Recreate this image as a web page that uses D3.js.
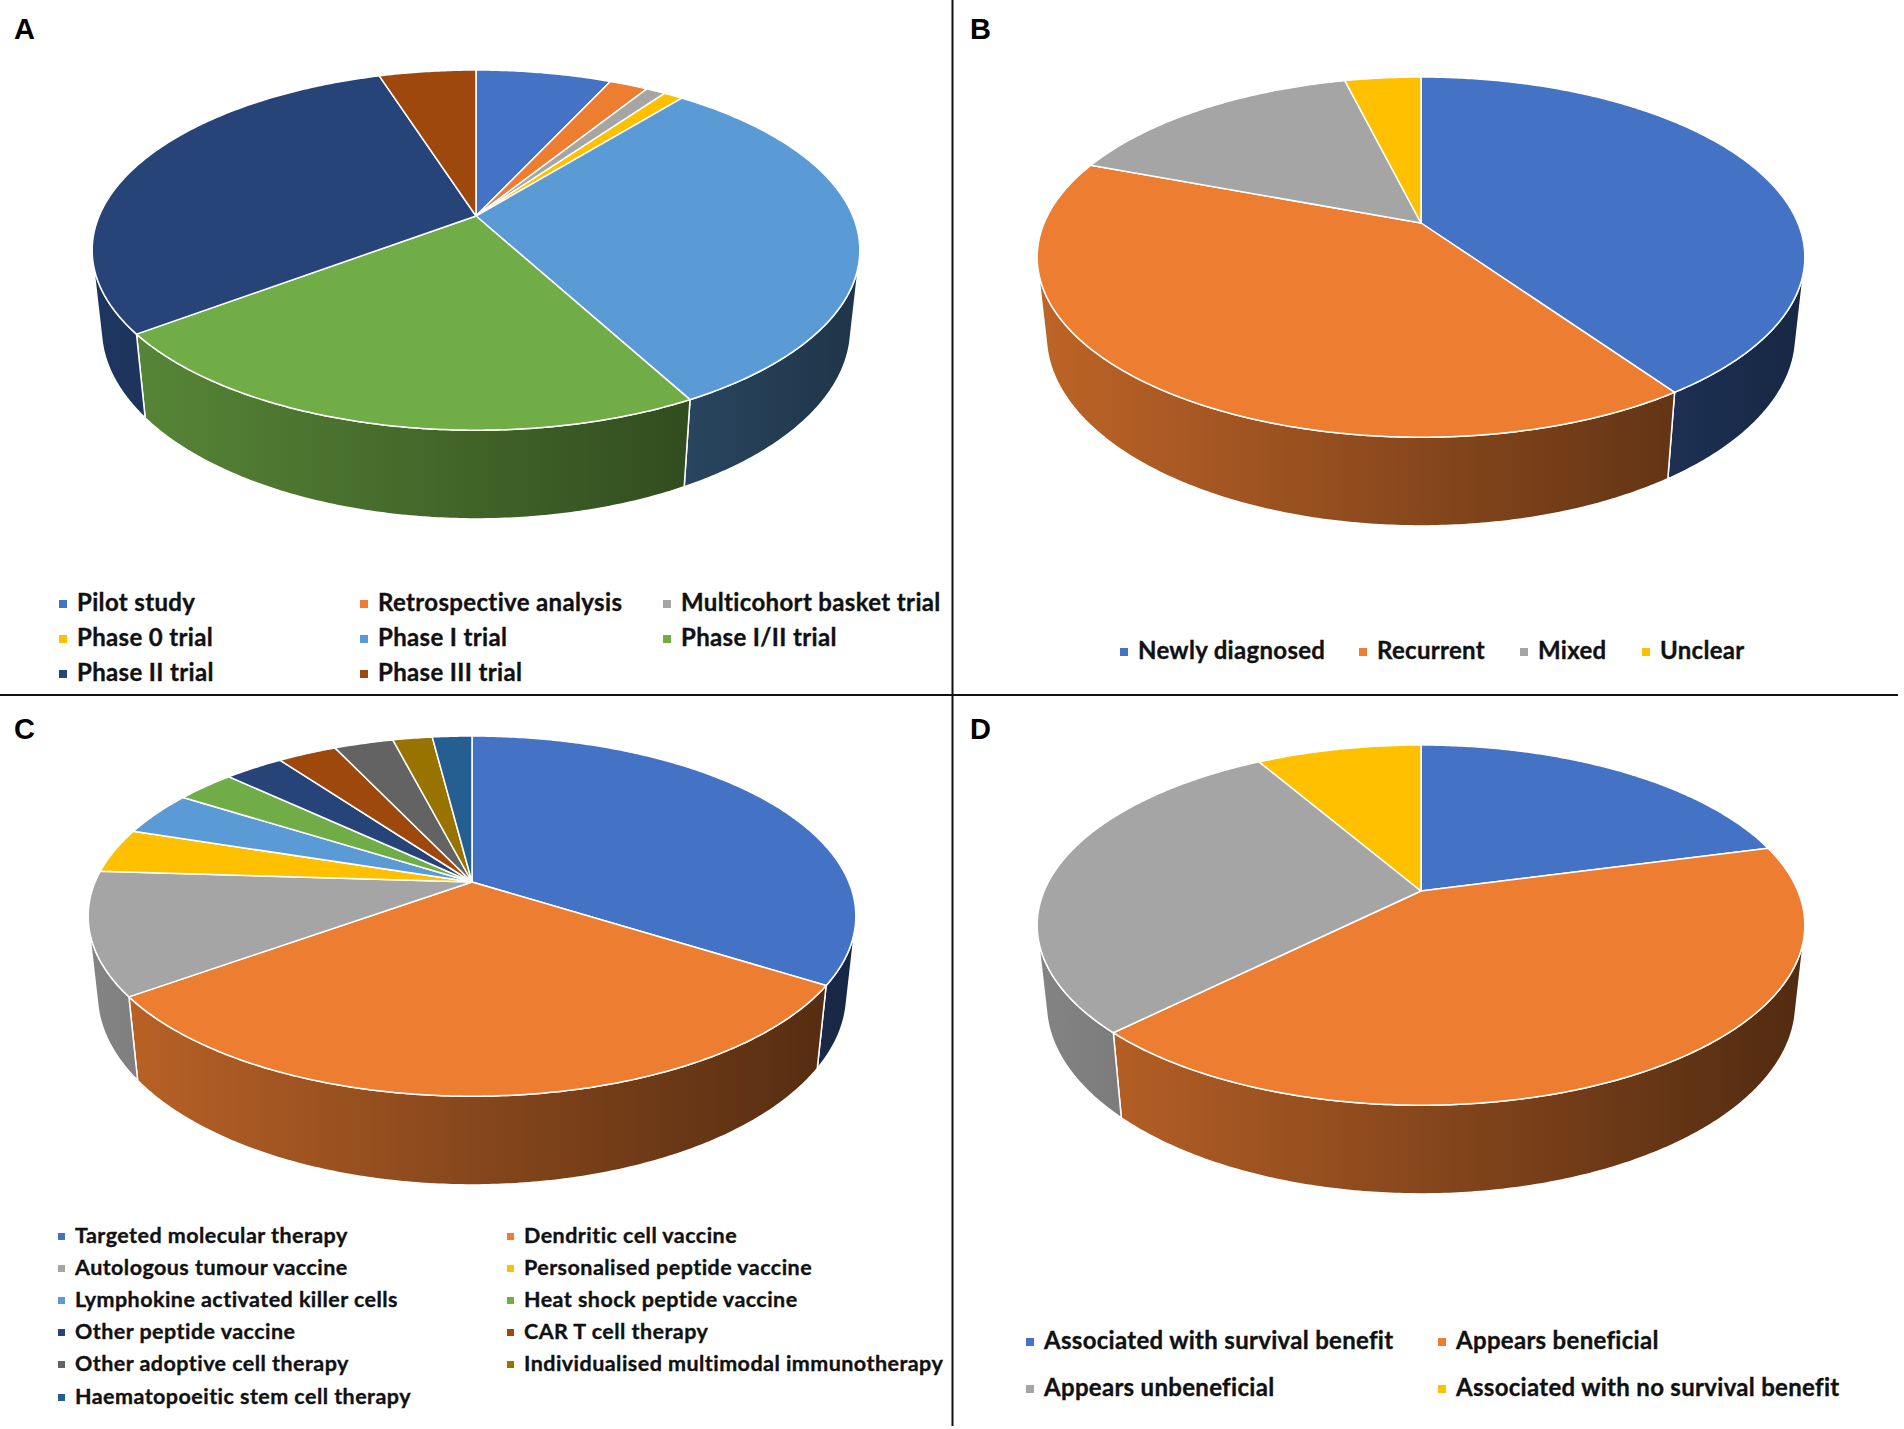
<!DOCTYPE html>
<html>
<head>
<meta charset="utf-8">
<script src="https://cdn.jsdelivr.net/npm/d3@7"></script>
<style>
  html, body { margin: 0; padding: 0; background: #fff; }
  svg { display: block; }
  .panel-letter { font-family: "Liberation Sans", Arial, sans-serif; font-weight: 700; font-size: 29px; fill: #000; }
  .leg text { font-family: Lato, "Open Sans", sans-serif; font-weight: 700; fill: #111; stroke: #111; stroke-width: 0.35px; }
</style>
</head>
<body>
<svg id="chart" width="1904" height="1429"></svg>
<script>
/* ── Data ─────────────────────────────────────────────────────── */
const studyTypes  = ["Pilot study", "Retrospective analysis", "Multicohort basket trial", "Phase 0 trial",
                     "Phase I trial", "Phase I/II trial", "Phase II trial", "Phase III trial"];
const studyCounts = [7, 2, 1, 1, 32, 23, 31, 5];
const studyColors = ["#4472C4", "#ED7D31", "#A5A5A5", "#FFC000", "#5B9BD5", "#70AD47", "#264478", "#9E480E"];

const diseaseStages = ["Newly diagnosed", "Recurrent", "Mixed", "Unclear"];
const diseaseCounts = [21, 21, 8, 2];

const therapyTypes  = ["Targeted molecular therapy", "Dendritic cell vaccine", "Autologous tumour vaccine",
                       "Personalised peptide vaccine", "Lymphokine activated killer cells", "Heat shock peptide vaccine",
                       "Other peptide vaccine", "CAR T cell therapy", "Other adoptive cell therapy",
                       "Individualised multimodal immunotherapy", "Haematopoeitic stem cell therapy"];
const therapyCounts = [34, 31, 11, 4, 4, 3, 3, 3, 3, 2, 2];
const therapyColors = ["#4472C4", "#ED7D31", "#A5A5A5", "#FFC000", "#5B9BD5", "#70AD47",
                       "#264478", "#9E480E", "#636363", "#997300", "#255E91"];

const outcomeLabels = ["Associated with survival benefit", "Appears beneficial",
                       "Appears unbeneficial", "Associated with no survival benefit"];
const outcomeCounts = [5, 10, 7, 2];

const fourColors = ["#4472C4", "#ED7D31", "#A5A5A5", "#FFC000"];

/* ── Layout ───────────────────────────────────────────────────── */
const panels = [
  { letter: "A", lx: 14, ly: 39, cx: 476, cy: 216, labels: studyTypes, values: studyCounts, colors: studyColors,
    legend: { cols: [77, 378, 681], rows: [611, 646, 681], size: 24, ls: 0.35, box: 8 } },
  { letter: "B", lx: 970, ly: 39, cx: 1421, cy: 223, labels: diseaseStages, values: diseaseCounts, colors: fourColors,
    legend: { cols: [1138, 1377, 1538, 1660], rows: [659], size: 24, ls: 0.3, box: 8 } },
  { letter: "C", lx: 14, ly: 739, cx: 472, cy: 882, labels: therapyTypes, values: therapyCounts, colors: therapyColors,
    legend: { cols: [75, 524], rows: [1243, 1275, 1307, 1339, 1371, 1404], size: 21.5, ls: 0.45, box: 7 } },
  { letter: "D", lx: 970, ly: 739, cx: 1421, cy: 891, labels: outcomeLabels, values: outcomeCounts, colors: fourColors,
    legend: { cols: [1044, 1456], rows: [1349, 1396], size: 24, ls: 0.3, box: 8 } }
];

// perspective camera for the tilted pie (unit-radius disc)
const K = 1766, SIN = 0.4607, COS = 0.8876, DIST = 4.686, THICK = 0.236;
const visLo = Math.acos(-1 / (DIST * COS));        // silhouette of the side wall
const visHi = 2 * Math.PI - visLo;
const shade = d3.scaleLinear().domain([0, 1]).range([0.8, 0.34]);

const svg = d3.select("#chart");
const defs = svg.append("defs");
const line = d3.line();

function drawPie(p, pi) {
  const g = svg.append("g");
  const arcs = d3.pie().sort(null).value(d => d)(p.values);

  const proj = (phi, y) => {
    const x = Math.sin(phi), z = -Math.cos(phi);
    const d = DIST - y * SIN - z * COS;
    return [p.cx + K * x / d, p.cy + K * (z * SIN - y * COS) / d];
  };
  const sample = (a0, a1, y) => {
    const n = Math.max(2, Math.ceil((a1 - a0) / 0.01));
    return d3.range(n + 1).map(k => proj(a0 + (a1 - a0) * k / n, y));
  };

  // side gradients (lighter left, darker right)
  p.colors.forEach((c, i) => {
    const grad = defs.append("linearGradient")
      .attr("id", `side-${pi}-${i}`)
      .attr("gradientUnits", "userSpaceOnUse")
      .attr("x1", p.cx - 385).attr("x2", p.cx + 385).attr("y1", 0).attr("y2", 0);
    [0, 0.5, 1].forEach(t => {
      const rgb = d3.rgb(c), f = shade(t);
      grad.append("stop").attr("offset", t)
        .attr("stop-color", d3.rgb(rgb.r * f, rgb.g * f, rgb.b * f).formatHex());
    });
  });

  // side walls
  g.append("g").selectAll("path")
    .data(arcs.filter(a => a.endAngle > visLo && a.startAngle < visHi))
    .join("path")
    .attr("d", a => {
      const lo = Math.max(a.startAngle, visLo), hi = Math.min(a.endAngle, visHi);
      return line(sample(lo, hi, 0).concat(sample(lo, hi, -THICK).reverse())) + "Z";
    })
    .attr("fill", a => `url(#side-${pi}-${a.index})`)
    .attr("stroke", "#fff").attr("stroke-width", 1.5).attr("stroke-linejoin", "round");

  // top faces
  g.append("g").selectAll("path")
    .data(arcs)
    .join("path")
    .attr("d", a => line([[p.cx, p.cy]].concat(sample(a.startAngle, a.endAngle, 0))) + "Z")
    .attr("fill", a => p.colors[a.index])
    .attr("stroke", "#fff").attr("stroke-width", 1.5).attr("stroke-linejoin", "round");

  // panel letter
  svg.append("text").attr("class", "panel-letter").attr("x", p.lx).attr("y", p.ly).text(p.letter);

  // legend
  const L = p.legend, nc = L.cols.length;
  const items = svg.append("g").attr("class", "leg").selectAll("g")
    .data(p.labels.map((t, i) => ({ t, i })))
    .join("g")
    .attr("transform", d => `translate(${L.cols[d.i % nc]},${L.rows[Math.floor(d.i / nc)]})`);
  items.append("rect")
    .attr("x", -L.box - 10).attr("y", -L.box - 3)
    .attr("width", L.box).attr("height", L.box)
    .attr("fill", d => p.colors[d.i]);
  items.append("text")
    .attr("font-size", L.size)
    .attr("letter-spacing", L.ls)
    .text(d => d.t);
}

panels.forEach(drawPie);

// quadrant dividers
svg.append("line").attr("x1", 952.5).attr("x2", 952.5).attr("y1", 0).attr("y2", 1426)
  .attr("stroke", "#111").attr("stroke-width", 2);
svg.append("line").attr("x1", 0).attr("x2", 1898).attr("y1", 695).attr("y2", 695)
  .attr("stroke", "#111").attr("stroke-width", 2);
</script>
</body>
</html>
